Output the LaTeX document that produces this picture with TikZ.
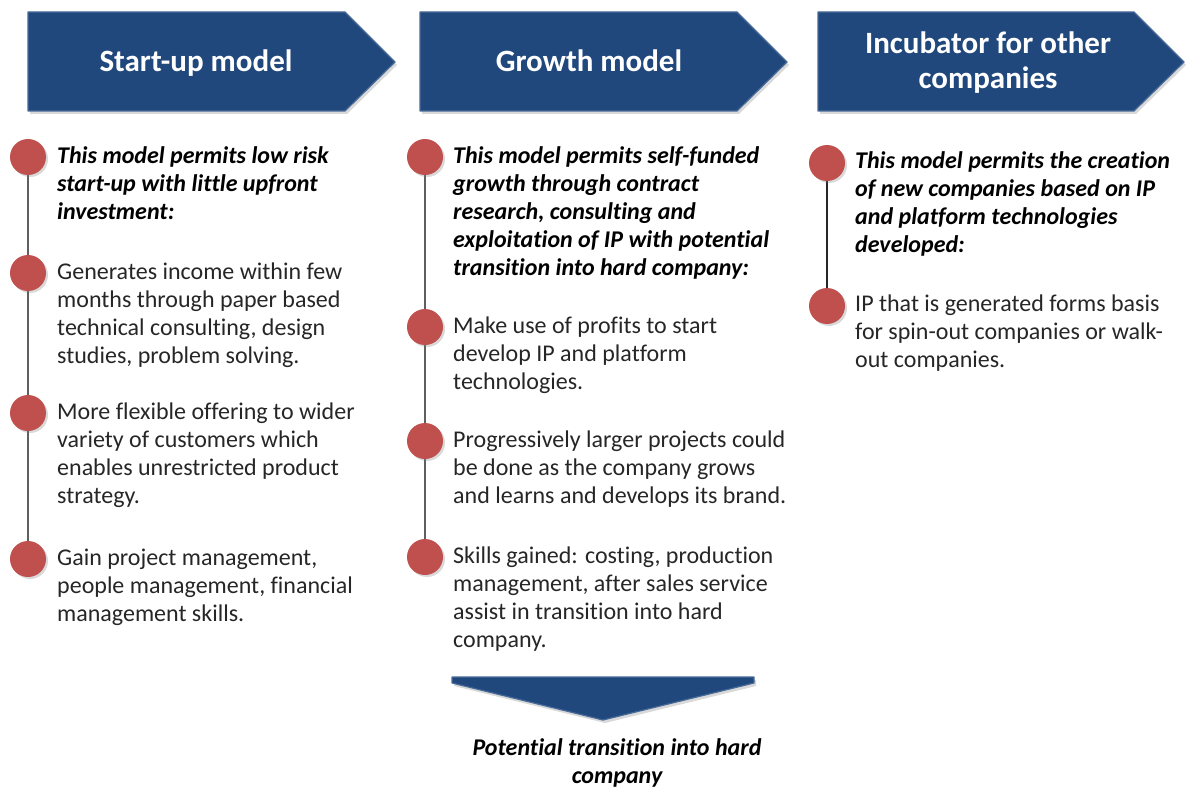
\documentclass[tikz,border=0pt]{standalone}
\usepackage{fontspec}
\setmainfont{Carlito}[Ligatures=NoCommon]
\usetikzlibrary{shadows,backgrounds}

\definecolor{hdrblue}{RGB}{33,72,124}
\definecolor{hdredge}{RGB}{72,106,152}
\definecolor{dotred}{RGB}{192,80,77}
\definecolor{stemgray}{RGB}{95,95,95}

% text nodes sit on the baseline of their last line
\tikzset{
  hdr/.style={fill=hdrblue, draw=hdredge, line width=1.2pt, line join=round,
    drop shadow={opacity=0.3, shadow xshift=2pt, shadow yshift=-3pt}},
  hdrtext/.style={text=white, anchor=base, align=center, inner sep=0pt,
    font=\fontsize{31}{35}\selectfont\bfseries},
  dot/.style={circle, minimum size=36pt, inner sep=0pt, fill=dotred,
    drop shadow={opacity=0.3, shadow xshift=2pt, shadow yshift=-2pt}},
  stem/.style={draw=stemgray, line width=1.5pt},
  item/.style={anchor=base west, align=left, inner sep=0pt, text=black!85,
    font=\fontsize{24}{28}\selectfont},
  lead/.style={item, text=black, font=\fontsize{24}{28}\selectfont\bfseries\itshape},
}

\begin{document}
\begin{tikzpicture}[x=1pt,y=-1pt]
\useasboundingbox (0,0) rectangle (1186,789);

% headers
\draw[hdr] (28,12) -- (345,12) -- (395,62) -- (345,111) -- (28,111) -- cycle;
\draw[hdr] (420,12) -- (737,12) -- (787,62) -- (737,111) -- (420,111) -- cycle;
\draw[hdr] (818,12) -- (1134,12) -- (1184,62) -- (1134,111) -- (818,111) -- cycle;
\node[hdrtext] (h1) at (196,72) {Start-up model};
\node[hdrtext] (h2) at (589,72) {Growth model};
\node[hdrtext] (h3) at (988,89) {Incubator for other\\companies};

% start-up column
\node[dot] (a1) at (28,157) {};
\node[dot] (a2) at (28,273) {};
\node[dot] (a3) at (28,413) {};
\node[dot] (a4) at (28,559) {};
\node[lead] (ta1) at (57,219) {This model permits low risk\\start-up with little upfront\\investment:};
\node[item] (ta2) at (57,363) {Generates income within few\\months through paper based\\technical consulting, design\\studies, problem solving.};
\node[item] (ta3) at (57,503) {More flexible offering to wider\\variety of customers which\\enables unrestricted product\\strategy.};
\node[item] (ta4) at (57,621) {Gain project management,\\people management, financial\\management skills.};

% growth column
\node[dot] (b1) at (425,157) {};
\node[dot] (b2) at (425,327) {};
\node[dot] (b3) at (425,441) {};
\node[dot] (b4) at (425,557) {};
\node[lead] (tb1) at (453,275) {This model permits self-funded\\growth through contract\\research, consulting and\\exploitation of IP with potential\\transition into hard company:};
\node[item] (tb2) at (453,389) {Make use of profits to start\\develop IP and platform\\technologies.};
\node[item] (tb3) at (453,503) {Progressively larger projects could\\be done as the company grows\\and learns and develops its brand.};
\node[item] (tb4) at (453,647) {Skills gained: costing, production\\management, after sales service\\assist in transition into hard\\company.};

% incubator column
\node[dot] (c1) at (827,163) {};
\node[dot] (c2) at (827,306) {};
\node[lead] (tc1) at (855,252) {This model permits the creation\\of new companies based on IP\\and platform technologies\\developed:};
\node[item] (tc2) at (855,367) {IP that is generated forms basis\\for spin-out companies or walk-\\out companies.};

\begin{scope}[on background layer]
  \draw[stem] (a1) -- (a4);
  \draw[stem] (b1) -- (b4);
  \draw[stem, draw=black!85] (c1) -- (c2);
\end{scope}

% way out of the growth model
\draw[hdr] (452,677) -- (754,677) -- (754,683) -- (603,720) -- (452,683) -- cycle;
\node[lead, anchor=base, align=center] (hard) at (617,783) {Potential transition into hard\\company};
\end{tikzpicture}
\end{document}
